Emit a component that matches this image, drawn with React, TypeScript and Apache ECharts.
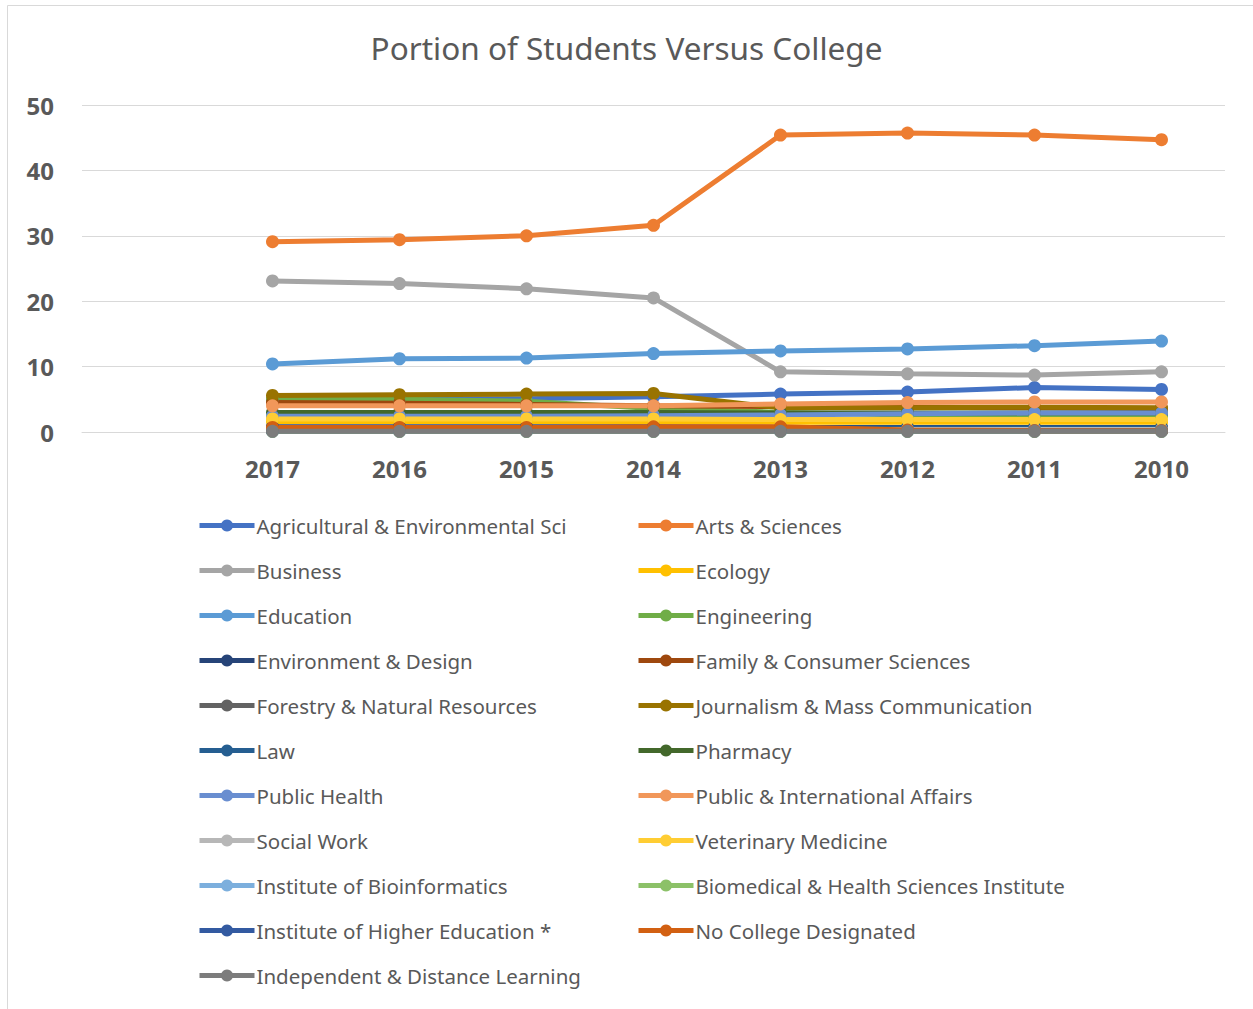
import React, { useEffect, useRef } from "react";
import * as echarts from "echarts";

const years = ["", "2017", "2016", "2015", "2014", "2013", "2012", "2011", "2010"];

const seriesNames = [
  "Agricultural & Environmental Sci",
  "Arts & Sciences",
  "Business",
  "Ecology",
  "Education",
  "Engineering",
  "Environment & Design",
  "Family & Consumer Sciences",
  "Forestry & Natural Resources",
  "Journalism & Mass Communication",
  "Law",
  "Pharmacy",
  "Public Health",
  "Public & International Affairs",
  "Social Work",
  "Veterinary Medicine",
  "Institute of Bioinformatics",
  "Biomedical & Health Sciences Institute",
  "Institute of Higher Education *",
  "No College Designated",
  "Independent & Distance Learning",
];

const colors = [
  "#4472C4", "#ED7D31", "#A5A5A5", "#FFC000", "#5B9BD5", "#70AD47", "#264478",
  "#9E480E", "#636363", "#997300", "#255E91", "#43682B", "#698ED0", "#F1975A",
  "#B7B7B7", "#FFCD33", "#7CAFDD", "#8CC168", "#335AA1", "#D26012", "#7C7C7C",
];

// values for 2017 .. 2010
const agricultural = [4.9, 5.0, 5.1, 5.4, 5.8, 6.1, 6.8, 6.5];
const artsSciences = [29.1, 29.4, 30.0, 31.6, 45.4, 45.7, 45.4, 44.7];
const business = [23.1, 22.7, 21.9, 20.5, 9.2, 8.9, 8.7, 9.2];
const ecology = [1.6, 1.6, 1.6, 1.6, 1.5, 1.5, 1.5, 1.5];
const education = [10.4, 11.2, 11.3, 12.0, 12.4, 12.7, 13.2, 13.9];
const engineering = [5.0, 5.0, 4.7, 3.6, 3.0, 2.6, 2.5, 2.5];
const environmentDesign = [0.8, 0.8, 0.8, 0.8, 0.7, 0.7, 0.7, 0.7];
const familyConsumer = [4.5, 4.4, 4.2, 4.0, 3.9, 3.8, 3.7, 3.6];
const forestry = [0.5, 0.5, 0.5, 0.5, 0.5, 0.5, 0.5, 0.5];
const journalism = [5.6, 5.7, 5.8, 5.9, 3.7, 3.7, 3.8, 3.7];
const law = [0.6, 0.6, 0.6, 0.6, 0.6, 0.6, 0.6, 0.6];
const pharmacy = [3.0, 3.0, 3.0, 3.0, 2.9, 2.9, 2.9, 2.9];
const publicHealth = [2.4, 2.4, 2.4, 2.5, 2.6, 2.8, 2.9, 2.9];
const publicIntlAffairs = [4.0, 4.0, 4.0, 4.0, 4.3, 4.5, 4.6, 4.6];
const socialWork = [0.4, 0.4, 0.4, 0.4, 0.4, 0.4, 0.4, 0.4];
const veterinary = [2.0, 2.0, 2.0, 2.0, 1.9, 1.9, 1.9, 1.9];
const bioinformatics = [0.1, 0.1, 0.1, 0.1, 0.1, 0.1, 0.1, 0.1];
const biomedical = [0.1, 0.1, 0.1, 0.1, 0.1, 0.1, 0.1, 0.1];
const higherEducation = [0.2, 0.2, 0.2, 0.2, 0.2, 0.2, 0.2, 0.2];
const noCollege = [0.7, 0.7, 0.7, 0.8, 0.8, 0.3, 0.2, 0.2];
const independent = [0.1, 0.1, 0.1, 0.1, 0.1, 0.1, 0.1, 0.1];

const seriesValues = [
  agricultural, artsSciences, business, ecology, education, engineering,
  environmentDesign, familyConsumer, forestry, journalism, law, pharmacy,
  publicHealth, publicIntlAffairs, socialWork, veterinary, bioinformatics,
  biomedical, higherEducation, noCollege, independent,
];

const yTicks = { min: 0, max: 50, interval: 10 };

const FONT = "'Noto Sans', sans-serif";
const TEXT = "#595959";

export default function App() {
  const ref = useRef<HTMLDivElement>(null);
  useEffect(() => {
    if (!ref.current) return;
    const chart = echarts.init(ref.current, undefined, { renderer: "svg" });
    const leftNames = seriesNames.filter((_, i) => i % 2 === 0);
    const rightNames = seriesNames.filter((_, i) => i % 2 === 1);
    const legendCommon = {
      orient: "vertical" as const,
      top: 513,
      itemWidth: 55,
      itemHeight: 15,
      itemGap: 20,
      padding: 0,
      lineStyle: { width: 5 },
      textStyle: { fontSize: 20.5, color: TEXT, fontFamily: FONT, lineHeight: 25, padding: [0, 0, 0, -3] },
    };
    chart.setOption({
      animation: false,
      backgroundColor: "#ffffff",
      color: colors,
      title: {
        text: "Portion of Students Versus College",
        left: "center",
        top: 26,
        textStyle: { fontSize: 31.5, fontWeight: "normal", color: TEXT, fontFamily: FONT },
      },
      graphic: [
        {
          type: "rect",
          shape: { x: 7.5, y: 5.5, width: 1300, height: 1100 },
          style: { fill: "none", stroke: "#d9d9d9", lineWidth: 1 },
          silent: true,
        },
      ],
      legend: [
        { ...legendCommon, left: 197, data: leftNames },
        { ...legendCommon, left: 636, data: rightNames },
      ],
      grid: { left: 82, right: 28, top: 105, height: 327, containLabel: false },
      xAxis: {
        type: "category",
        data: years,
        boundaryGap: true,
        axisTick: { show: false },
        axisLine: { lineStyle: { color: "#d9d9d9", width: 1 } },
        axisLabel: { fontSize: 24, fontWeight: "bold", color: TEXT, fontFamily: FONT, margin: 24 },
      },
      yAxis: {
        type: "value",
        min: yTicks.min,
        max: yTicks.max,
        interval: yTicks.interval,
        axisLine: { show: false },
        axisTick: { show: false },
        splitLine: { lineStyle: { color: "#d9d9d9", width: 1 } },
        axisLabel: { fontSize: 24, fontWeight: "bold", color: TEXT, fontFamily: FONT, margin: 28 },
      },
      series: seriesNames.map((name, i) => ({
        name,
        type: "line",
        data: [null, ...seriesValues[i]],
        symbol: "circle",
        symbolSize: 13,
        lineStyle: { width: 5, color: colors[i] },
        itemStyle: { color: colors[i] },
        connectNulls: false,
      })),
    });
    return () => chart.dispose();
  }, []);
  return (
    <div
      ref={ref}
      style={{ position: "absolute", left: 0, top: 0, width: 1253, height: 1009 }}
    />
  );
}
